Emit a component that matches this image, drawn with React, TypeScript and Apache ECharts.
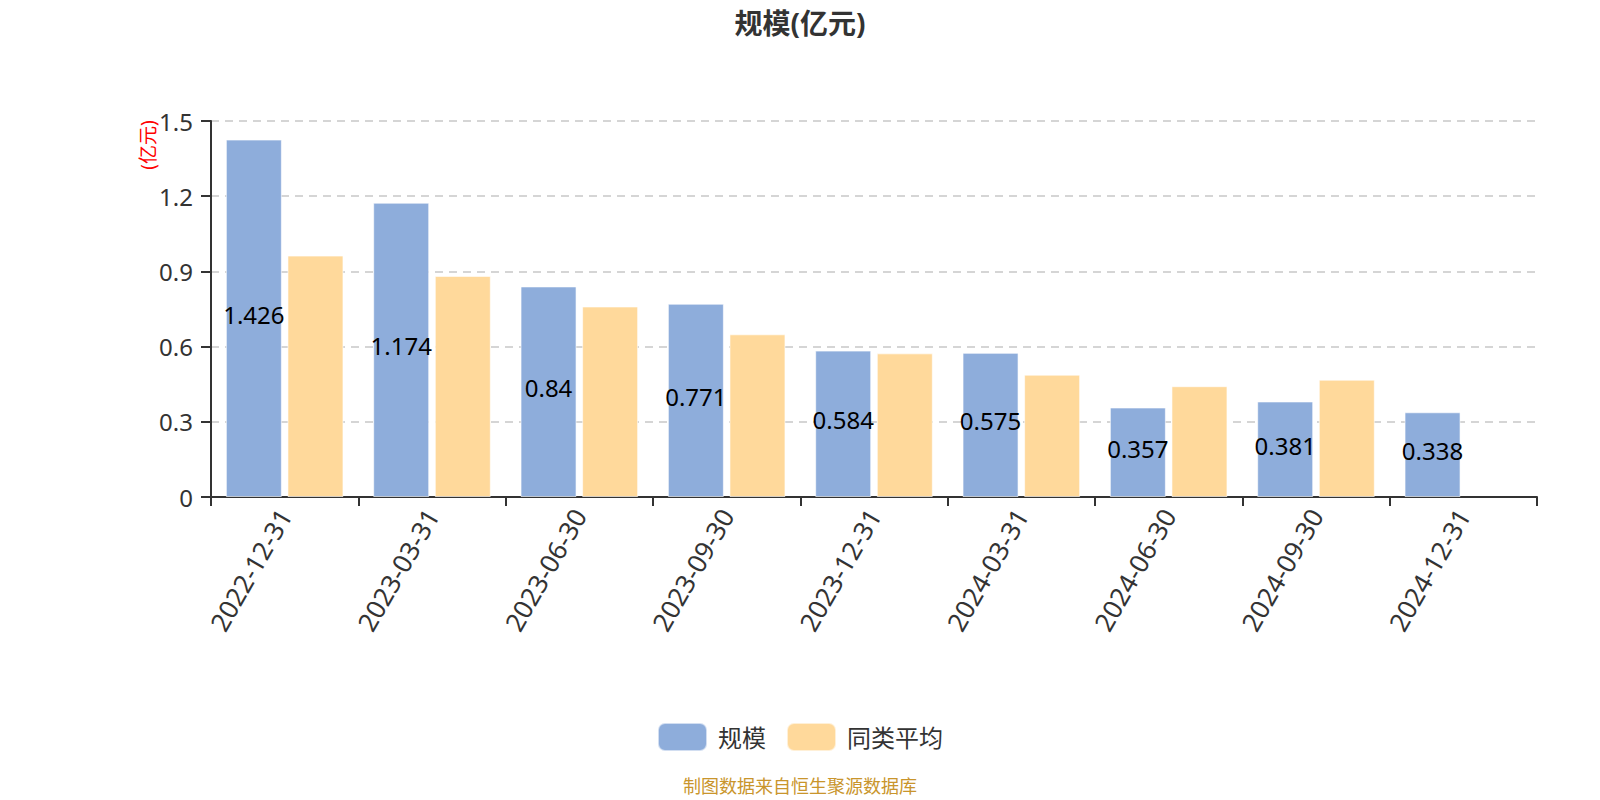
import React from 'react';
import * as echarts from 'echarts';

const categories = [
  '2022-12-31', '2023-03-31', '2023-06-30', '2023-09-30', '2023-12-31',
  '2024-03-31', '2024-06-30', '2024-09-30', '2024-12-31',
];
const scaleValues = [1.426, 1.174, 0.84, 0.771, 0.584, 0.575, 0.357, 0.381, 0.338];
// last quarter has no peer average
const peerAverage = [0.963, 0.882, 0.76, 0.649, 0.573, 0.488, 0.442, 0.468, null];
const yTicks = { min: 0, max: 1.5, interval: 0.3 };

const FONT = '"Noto Sans", "Noto Sans CJK SC", sans-serif';

const App: React.FC = () => {
  const chartRef = React.useRef<HTMLDivElement>(null);

  React.useEffect(() => {
    if (!chartRef.current) return;
    const chart = echarts.init(chartRef.current, undefined, { renderer: 'svg' });

    chart.setOption({
      animation: false,
      textStyle: { fontFamily: FONT },
      title: {
        text: '规模(亿元)',
        left: 'center',
        top: 9,
        padding: 0,
        textStyle: { fontSize: 28, fontWeight: 'bold', color: '#333', fontFamily: FONT },
      },
      legend: {
        data: ['规模', '同类平均'],
        top: 722,
        left: 'center',
        padding: 0,
        itemWidth: 49,
        itemHeight: 28,
        itemGap: 20,
        icon: 'roundRect',
        textStyle: { fontSize: 24, color: '#333', fontFamily: FONT, padding: [0, 0, 0, 6] },
      },
      grid: { left: 211, right: 63, top: 121, bottom: 303 },
      xAxis: {
        type: 'category',
        data: categories,
        axisLine: { lineStyle: { color: '#333', width: 2 } },
        axisTick: { show: true, length: 9, lineStyle: { color: '#333', width: 2 } },
        axisLabel: { rotate: 60, fontSize: 26, color: '#333', interval: 0, margin: 14 },
      },
      yAxis: {
        type: 'value',
        min: yTicks.min,
        max: yTicks.max,
        interval: yTicks.interval,
        axisLine: { show: true, lineStyle: { color: '#333', width: 2 } },
        axisTick: { show: true, length: 10, lineStyle: { color: '#333', width: 2 } },
        axisLabel: { fontSize: 24, color: '#333', margin: 18 },
        splitLine: { lineStyle: { type: [8, 6], color: '#c8c8c8', width: 1.5 } },
      },
      series: [
        {
          name: '规模',
          type: 'bar',
          data: scaleValues,
          barWidth: 56,
          barGap: '10%',
          itemStyle: { color: '#8eaddb', borderColor: 'rgba(255,255,255,0.6)', borderWidth: 1 },
          label: {
            show: true,
            position: 'inside',
            offset: [0, -4],
            color: '#000',
            fontSize: 24,
            fontFamily: FONT,
          },
        },
        {
          name: '同类平均',
          type: 'bar',
          data: peerAverage.map(v => (v === null ? '-' : v)),
          barWidth: 56,
          itemStyle: { color: '#ffd99b', borderColor: 'rgba(255,255,255,0.6)', borderWidth: 1 },
        },
      ],
      graphic: [
        {
          type: 'text',
          x: 148,
          y: 145,
          rotation: Math.PI / 2,
          style: {
            text: '(亿元)',
            fill: '#ff0000',
            fontSize: 19,
            fontFamily: FONT,
            align: 'center',
            verticalAlign: 'middle',
          },
        },
        {
          type: 'text',
          left: 'center',
          top: 777,
          style: {
            text: '制图数据来自恒生聚源数据库',
            fill: '#c9952c',
            fontSize: 18,
            fontFamily: FONT,
          },
        },
      ],
    });

    return () => {
      chart.dispose();
    };
  }, []);

  // fill the whole 1600x800 window, ignoring the default body margin
  return (
    <div
      ref={chartRef}
      style={{ position: 'absolute', left: 0, top: 0, width: '1600px', height: '800px' }}
    />
  );
};

export default App;
